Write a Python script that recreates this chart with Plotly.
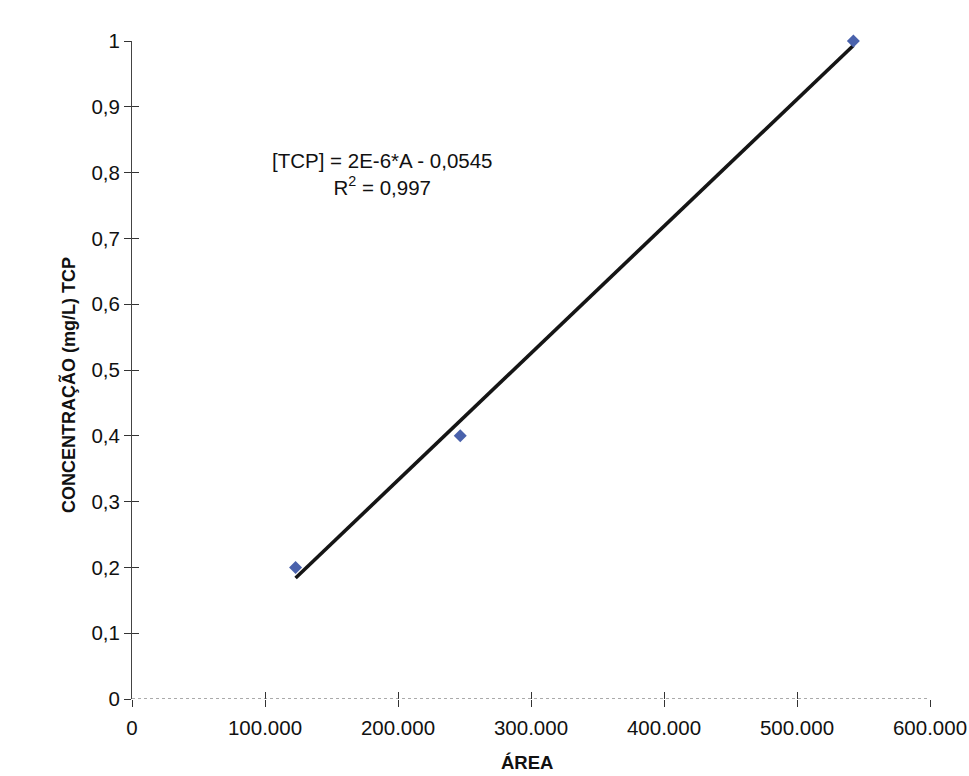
import numpy as np
import plotly.graph_objects as go

# Calibration standards: peak area vs. TCP concentration
area = [123000, 246800, 542400]
conc = [0.2, 0.4, 1.0]

x_ticks = [0, 100000, 200000, 300000, 400000, 500000, 600000]
y_ticks = [0, 0.1, 0.2, 0.3, 0.4, 0.5, 0.6, 0.7, 0.8, 0.9, 1]

equation_text = "[TCP] = 2E-6*A - 0,0545<br>R<sup>2</sup> = 0,997"
x_title = "<b>ÁREA</b>"
y_title = "<b>CONCENTRAÇÃO (mg/L) TCP</b>"

# Least-squares trend line across the span of the standards
slope, intercept = np.polyfit(area, conc, 1)
fit_x = [min(area), max(area)]
fit_y = [slope * v + intercept for v in fit_x]

FONT = "Liberation Sans, Arial, sans-serif"

# plotting area in pixels: left 132, right 930, top 41, bottom 699
L, R, T, B = 132, 930, 41, 699
W, H = R - L, B - T

fig = go.Figure()
fig.add_trace(go.Scatter(
    x=fit_x, y=fit_y, mode="lines",
    line=dict(color="#151515", width=3.6),
    cliponaxis=False, hoverinfo="skip", showlegend=False,
))
fig.add_trace(go.Scatter(
    x=area, y=conc, mode="markers",
    marker=dict(symbol="diamond", size=10, color="#4a62ac",
                line=dict(width=0)),
    cliponaxis=False, showlegend=False,
))

axis_common = dict(showgrid=False, zeroline=False, ticks="outside", ticklen=7,
                   tickwidth=1, tickcolor="#333",
                   tickfont=dict(family=FONT, size=20.5, color="#111"))

fig.update_layout(
    width=969, height=776,
    margin=dict(l=L, r=969 - R, t=T, b=776 - B),
    paper_bgcolor="white", plot_bgcolor="white",
    separators=",.",
    font=dict(family=FONT, color="#111"),
    xaxis=dict(range=[0, 600000], tickvals=x_ticks, tickformat=",.0f",
               showline=False, automargin=False, ticklabelstandoff=3,
               **axis_common),
    yaxis=dict(range=[0, 1], tickvals=y_ticks, showline=True, linecolor="#444",
               linewidth=1, automargin=False, ticklabelstandoff=0,
               **axis_common),
    # mirrored axes carrying inward tick marks so the ticks cross the axis lines
    xaxis2=dict(overlaying="x", range=[0, 600000], tickvals=x_ticks,
                showticklabels=False, showgrid=False, zeroline=False,
                ticks="inside", ticklen=7, tickcolor="#333", showline=False),
    yaxis2=dict(overlaying="y", range=[0, 1], tickvals=y_ticks,
                showticklabels=False, showgrid=False, zeroline=False,
                ticks="inside", ticklen=7, tickcolor="#333", showline=False),
    annotations=[
        dict(xref="x domain", yref="y domain",
             x=(382 - L) / W, y=(B - 174) / H,
             xanchor="center", yanchor="middle",
             text=equation_text, showarrow=False, align="center",
             font=dict(size=20.5, family=FONT, color="#111")),
        dict(xref="x domain", yref="y domain",
             x=(527 - L) / W, y=(B - 762) / H,
             xanchor="center", yanchor="middle",
             text=x_title, showarrow=False,
             font=dict(size=18.5, family=FONT, color="#111")),
        dict(xref="x domain", yref="y domain",
             x=(68 - L) / W, y=(B - 385) / H,
             xanchor="center", yanchor="middle", textangle=-90,
             text=y_title, showarrow=False,
             font=dict(size=18, family=FONT, color="#111")),
    ],
)

# dotted baseline along the x axis
fig.add_shape(type="line", xref="x domain", yref="y", x0=0, x1=1, y0=0, y1=0,
              line=dict(color="#555", width=1, dash="dot"))

fig.add_trace(go.Scatter(x=[None], y=[None], xaxis="x2", yaxis="y2",
                         showlegend=False, hoverinfo="skip"))

fig.write_html("out.html")
